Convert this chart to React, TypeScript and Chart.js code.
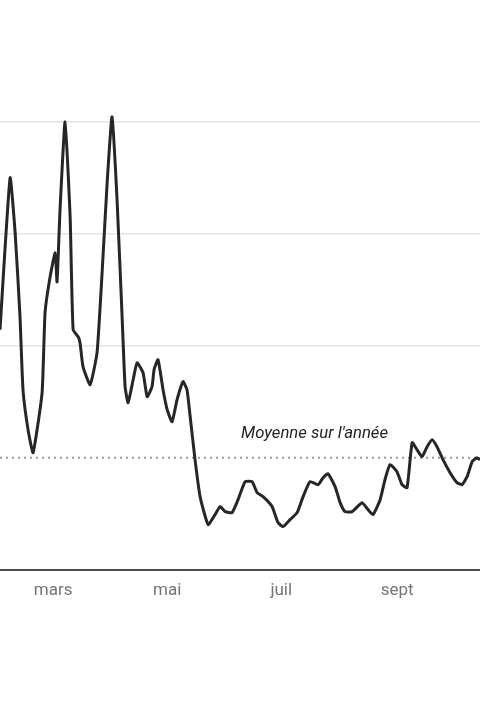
import React, { useEffect, useRef } from "react";
import { Chart, registerables } from "chart.js";

Chart.register(...registerables);

// Day-of-year positions of the traced points (1 Jan = 0)
const days: number[] = [
  30.6, 36.0, 38.7, 41.3, 42.9, 45.6, 48.3, 53.1, 54.7, 57.4, 60.1, 61.1, 62.7, 65.4,
  68.1, 69.7, 72.4, 73.4, 75.0, 78.8, 82.5, 85.2, 87.9, 90.5, 93.2, 95.9, 97.5, 99.1,
  101.8, 103.9, 107.1, 109.3, 111.9, 113.0, 115.1, 117.8, 120.0, 122.6, 125.3, 128.5,
  130.6, 132.3, 134.9, 137.6, 141.9, 145.6, 148.3, 151.0, 154.7, 157.9, 161.7, 165.4,
  168.1, 171.3, 176.1, 179.3, 182.0, 185.7, 189.5, 192.7, 196.4, 200.7, 203.4, 206.0,
  209.8, 212.5, 215.1, 218.9, 224.2, 227.4, 230.1, 233.9, 236.5, 239.2, 242.9, 245.6,
  248.3, 251.0, 253.6, 256.3, 259.0, 261.7, 264.3, 267.5, 271.3, 275.0, 277.7, 280.4,
  283.1, 285.7, 287.3,
];

// Index values (annual mean = 100)
const values: number[] = [
  214.3, 350.0, 300.9, 225.9, 160.7, 125.0, 104.5, 158.0, 229.5, 261.6, 283.0, 257.1, 321.4, 400.0,
  315.2, 214.3, 208.0, 202.7, 181.3, 165.2, 193.8, 265.2, 345.5, 404.5, 330.4, 225.9, 163.4, 149.1,
  169.6, 184.8, 175.9, 154.5, 163.4, 178.6, 187.5, 160.7, 142.9, 132.1, 151.8, 167.9,
  160.7, 136.6, 98.2, 65.2, 40.2, 49.1, 56.3, 51.8, 50.9, 62.5, 78.6, 78.6,
  68.8, 65.2, 56.3, 42.0, 38.4, 44.6, 50.9, 65.2, 78.6, 75.9, 82.1, 85.7,
  74.1, 59.8, 51.8, 51.8, 59.8, 53.6, 49.1, 62.5, 80.4, 93.8, 87.5, 75.9,
  73.2, 113.4, 107.1, 100.9, 109.8, 116.1, 109.8, 98.2, 86.6, 77.7, 75.9, 83.0,
  96.4, 100.0, 98.2,
];

const monthTickDays: number[] = [59, 120, 181, 243];
const monthTickLabels: string[] = ["mars", "mai", "juil", "sept"];
const gridValues: number[] = [200, 300, 400];

const meanValue = 100;
const meanLabel = "Moyenne sur l'année";
const meanLabelDay = 159.5;

const xMin = 30.6;
const xMax = 287.3;
const yMin = 0;
const yMax = 508.9;

const meanLabelPlugin = {
  id: "meanLabel",
  afterDatasetsDraw(chart: any) {
    const { ctx, scales } = chart;
    const x = scales.x.getPixelForValue(meanLabelDay);
    const y = scales.y.getPixelForValue(meanValue) - 20;
    ctx.save();
    ctx.font = "italic 16.7px Roboto";
    ctx.fillStyle = "#222222";
    ctx.textAlign = "left";
    ctx.textBaseline = "alphabetic";
    ctx.fillText(meanLabel, x, y);
    ctx.restore();
  },
};

export default function App() {
  const ref = useRef<HTMLCanvasElement | null>(null);

  useEffect(() => {
    document.body.style.margin = "0";
    const canvas = ref.current;
    if (!canvas) return;
    const points = days.map((d, i) => ({ x: d, y: values[i] }));
    const chart = new Chart(canvas, {
      type: "line",
      data: {
        datasets: [
          {
            data: [
              { x: xMin, y: meanValue },
              { x: xMax, y: meanValue },
            ],
            borderColor: "#9a9a9a",
            borderWidth: 2,
            borderDash: [2, 4],
            pointRadius: 0,
            order: 2,
          },
          {
            data: points,
            borderColor: "#262626",
            borderWidth: 3,
            pointRadius: 0,
            tension: 0.15,
            borderJoinStyle: "round",
            order: 1,
          },
        ],
      },
      options: {
        responsive: false,
        animation: false,
        maintainAspectRatio: false,
        layout: { padding: { left: 0, right: 0, top: 0, bottom: 108 } },
        plugins: {
          legend: { display: false },
          tooltip: { enabled: false },
        },
        scales: {
          x: {
            type: "linear",
            min: xMin,
            max: xMax,
            afterBuildTicks: (scale: any) => {
              scale.ticks = monthTickDays.map((v) => ({ value: v }));
            },
            ticks: {
              autoSkip: false,
              maxRotation: 0,
              padding: 11,
              color: "#757575",
              font: { family: "Roboto", size: 17 },
              callback: (v: any) => {
                const i = monthTickDays.indexOf(Number(v));
                return i >= 0 ? monthTickLabels[i] : "";
              },
            },
            grid: { display: false, drawTicks: false },
            border: { display: true, color: "#4a4a4a", width: 2 },
          },
          y: {
            type: "linear",
            min: yMin,
            max: yMax,
            afterBuildTicks: (scale: any) => {
              scale.ticks = gridValues.map((v) => ({ value: v }));
            },
            ticks: { display: false },
            grid: { color: "#e4e4e4", lineWidth: 1.5, drawTicks: false },
            border: { display: false },
          },
        },
      },
      plugins: [meanLabelPlugin],
    });
    return () => chart.destroy();
  }, []);

  return (
    <div style={{ position: "fixed", left: 0, top: 0, width: 480, height: 720, background: "#fff" }}>
      <canvas ref={ref} width={480} height={720} />
    </div>
  );
}
